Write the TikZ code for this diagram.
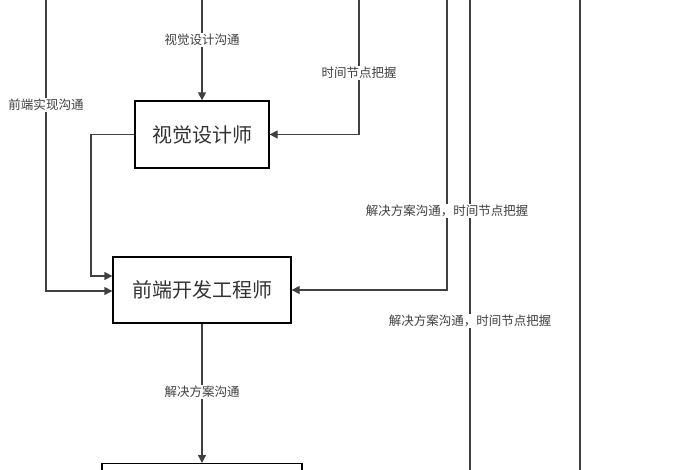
\documentclass[tikz,border=0pt]{standalone}
\usepackage{fontspec}
\newfontfamily\cjk{Noto Sans CJK SC}
\usetikzlibrary{arrows.meta}
\tikzset{
  rolebox/.style={draw, line width=1.3pt, rectangle, inner sep=0pt, font=\cjk\fontsize{20}{22}\selectfont, text=black!80},
  talk/.style={fill=white, inner sep=1.5pt, font=\cjk\fontsize{12.5}{14}\selectfont, text=black!75},
  link/.style={line width=1.3pt, draw=black!75, -{Triangle[length=8pt,width=8pt]}},
  wire/.style={line width=1.3pt, draw=black!75}
}
\begin{document}
\begin{tikzpicture}[x=1pt, y=-1pt]
\useasboundingbox (0,0) rectangle (700,470);
\clip (0,0) rectangle (700,470);

\node[rolebox, minimum width=134pt, minimum height=67pt] (visual) at (202,134.5) {视觉设计师};
\node[rolebox, minimum width=178pt, minimum height=66pt] (front) at (202,290) {前端开发工程师};
\node[rolebox, minimum width=200pt, minimum height=60pt, anchor=north] (bottom) at (202,463) {};

\coordinate (topa) at (46,0);
\coordinate (topb) at (202,0);
\coordinate (topc) at (359,0);
\coordinate (topd) at (447,0);
\coordinate (tope) at (470,0);
\coordinate (topf) at (580,0);
\coordinate (bote) at (470,470);
\coordinate (botf) at (580,470);

\draw[link] (topb) -- (visual.north);
\draw[link] (topc) |- (visual.east);
\draw[link] (topa) |- ([yshift=-1pt]front.west);
\draw[link] (visual.west) -| (91,276) -- ([yshift=14pt]front.west);
\draw[link] (topd) |- (front.east);
\draw[link] (front.south) -- (bottom.north);
\draw[wire] (tope) -- (bote);
\draw[wire] (topf) -- (botf);

\node[talk] (la) at (202,40) {视觉设计沟通};
\node[talk] (lb) at (359,73) {时间节点把握};
\node[talk] (lc) at (46,105) {前端实现沟通};
\node[talk] (ld) at (447,211) {解决方案沟通，时间节点把握};
\node[talk] (le) at (470,321) {解决方案沟通，时间节点把握};
\node[talk] (lf) at (202,392) {解决方案沟通};

\end{tikzpicture}
\end{document}
